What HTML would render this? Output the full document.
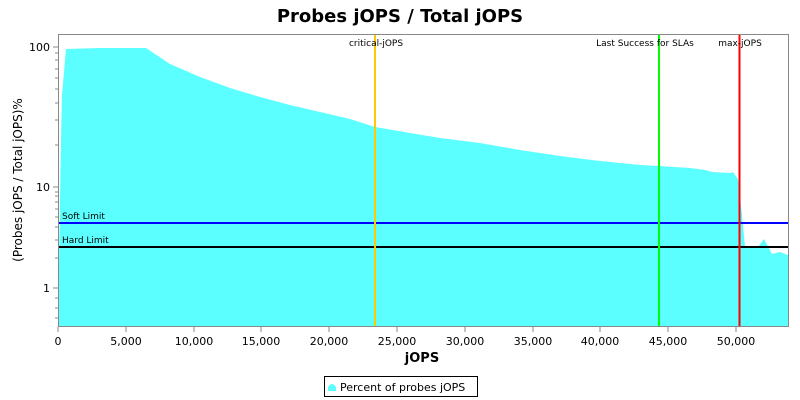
<!DOCTYPE html>
<html><head><meta charset="utf-8"><style>body{margin:0;background:#fff}svg{display:block}text{font-family:"DejaVu Sans","Liberation Sans",sans-serif}</style></head>
<body>
<svg width="800" height="400" xmlns="http://www.w3.org/2000/svg">
<rect width="800" height="400" fill="#fff"/>
<text x="400" y="22" text-anchor="middle" font-size="18" font-weight="bold">Probes jOPS / Total jOPS</text>
<polygon fill="#5BFFFF" points="58,327 59,260 61,140 62,95 66,49 100,48 146,48 170,64 200,77 230,88 260,97 290,105 320,112 350,119 375,127 410,133 440,138 480,143 520,150 560,156 600,161 640,165 659,166 690,168 705,170 712,172 730,173 733,172 738,179 742,215 745,247 758,247 764,239 772,254 780,252 788,255 788,327"/>
<line x1="58" y1="223" x2="788" y2="223" stroke="#0000FF" stroke-width="2"/>
<line x1="58" y1="247" x2="788" y2="247" stroke="#000" stroke-width="2"/>
<line x1="375" y1="34" x2="375" y2="327" stroke="#FFC800" stroke-width="2"/>
<line x1="659" y1="34" x2="659" y2="327" stroke="#00FF00" stroke-width="2"/>
<line x1="739.5" y1="34" x2="739.5" y2="327" stroke="#FF0000" stroke-width="2"/>
<g font-size="9" text-anchor="middle">
<text x="376" y="46">critical-jOPS</text>
<text x="645" y="46">Last Success for SLAs</text>
<text x="740" y="46">max-jOPS</text>
</g>
<g font-size="9"><text x="62" y="219">Soft Limit</text><text x="62" y="243">Hard Limit</text></g>
<rect x="58.5" y="34.5" width="730" height="292" fill="none" stroke="#888"/>
<g stroke="#888">
<line x1="53" y1="47" x2="58" y2="47"/><line x1="53" y1="187" x2="58" y2="187"/><line x1="53" y1="288" x2="58" y2="288"/>
<line x1="55" y1="145" x2="58" y2="145"/><line x1="55" y1="120" x2="58" y2="120"/><line x1="55" y1="103" x2="58" y2="103"/><line x1="55" y1="89" x2="58" y2="89"/><line x1="55" y1="78" x2="58" y2="78"/><line x1="55" y1="69" x2="58" y2="69"/><line x1="55" y1="60" x2="58" y2="60"/><line x1="55" y1="53" x2="58" y2="53"/>
<line x1="55" y1="258" x2="58" y2="258"/><line x1="55" y1="240" x2="58" y2="240"/><line x1="55" y1="227" x2="58" y2="227"/><line x1="55" y1="217" x2="58" y2="217"/><line x1="55" y1="209" x2="58" y2="209"/><line x1="55" y1="202" x2="58" y2="202"/><line x1="55" y1="196" x2="58" y2="196"/><line x1="55" y1="192" x2="58" y2="192"/>
<line x1="55" y1="318" x2="58" y2="318"/><line x1="55" y1="298" x2="58" y2="298"/><line x1="55" y1="308" x2="58" y2="308"/>
<line x1="58" y1="327" x2="58" y2="332"/><line x1="126" y1="327" x2="126" y2="332"/><line x1="194" y1="327" x2="194" y2="332"/><line x1="261" y1="327" x2="261" y2="332"/><line x1="329" y1="327" x2="329" y2="332"/><line x1="397" y1="327" x2="397" y2="332"/><line x1="465" y1="327" x2="465" y2="332"/><line x1="533" y1="327" x2="533" y2="332"/><line x1="600" y1="327" x2="600" y2="332"/><line x1="668" y1="327" x2="668" y2="332"/><line x1="736" y1="327" x2="736" y2="332"/>
</g>
<g font-size="11" text-anchor="end"><text x="50" y="51">100</text><text x="50" y="191">10</text><text x="50" y="292">1</text></g>
<g font-size="11" text-anchor="middle"><text x="58" y="345">0</text><text x="126" y="345">5,000</text><text x="194" y="345">10,000</text><text x="261" y="345">15,000</text><text x="329" y="345">20,000</text><text x="397" y="345">25,000</text><text x="465" y="345">30,000</text><text x="533" y="345">35,000</text><text x="600" y="345">40,000</text><text x="668" y="345">45,000</text><text x="736" y="345">50,000</text></g>
<text x="422" y="362" text-anchor="middle" font-size="13" font-weight="bold">jOPS</text>
<text transform="translate(22,180) rotate(-90)" text-anchor="middle" font-size="12">(Probes jOPS / Total jOPS)%</text>
<rect x="324.5" y="376.5" width="153" height="20" fill="#fff" stroke="#000"/>
<path d="M328,391 L328,387 Q332,381 336,387 L336,391 Z" fill="#5BFFFF"/>
<text x="340" y="391" font-size="11">Percent of probes jOPS</text>
</svg>
</body></html>
